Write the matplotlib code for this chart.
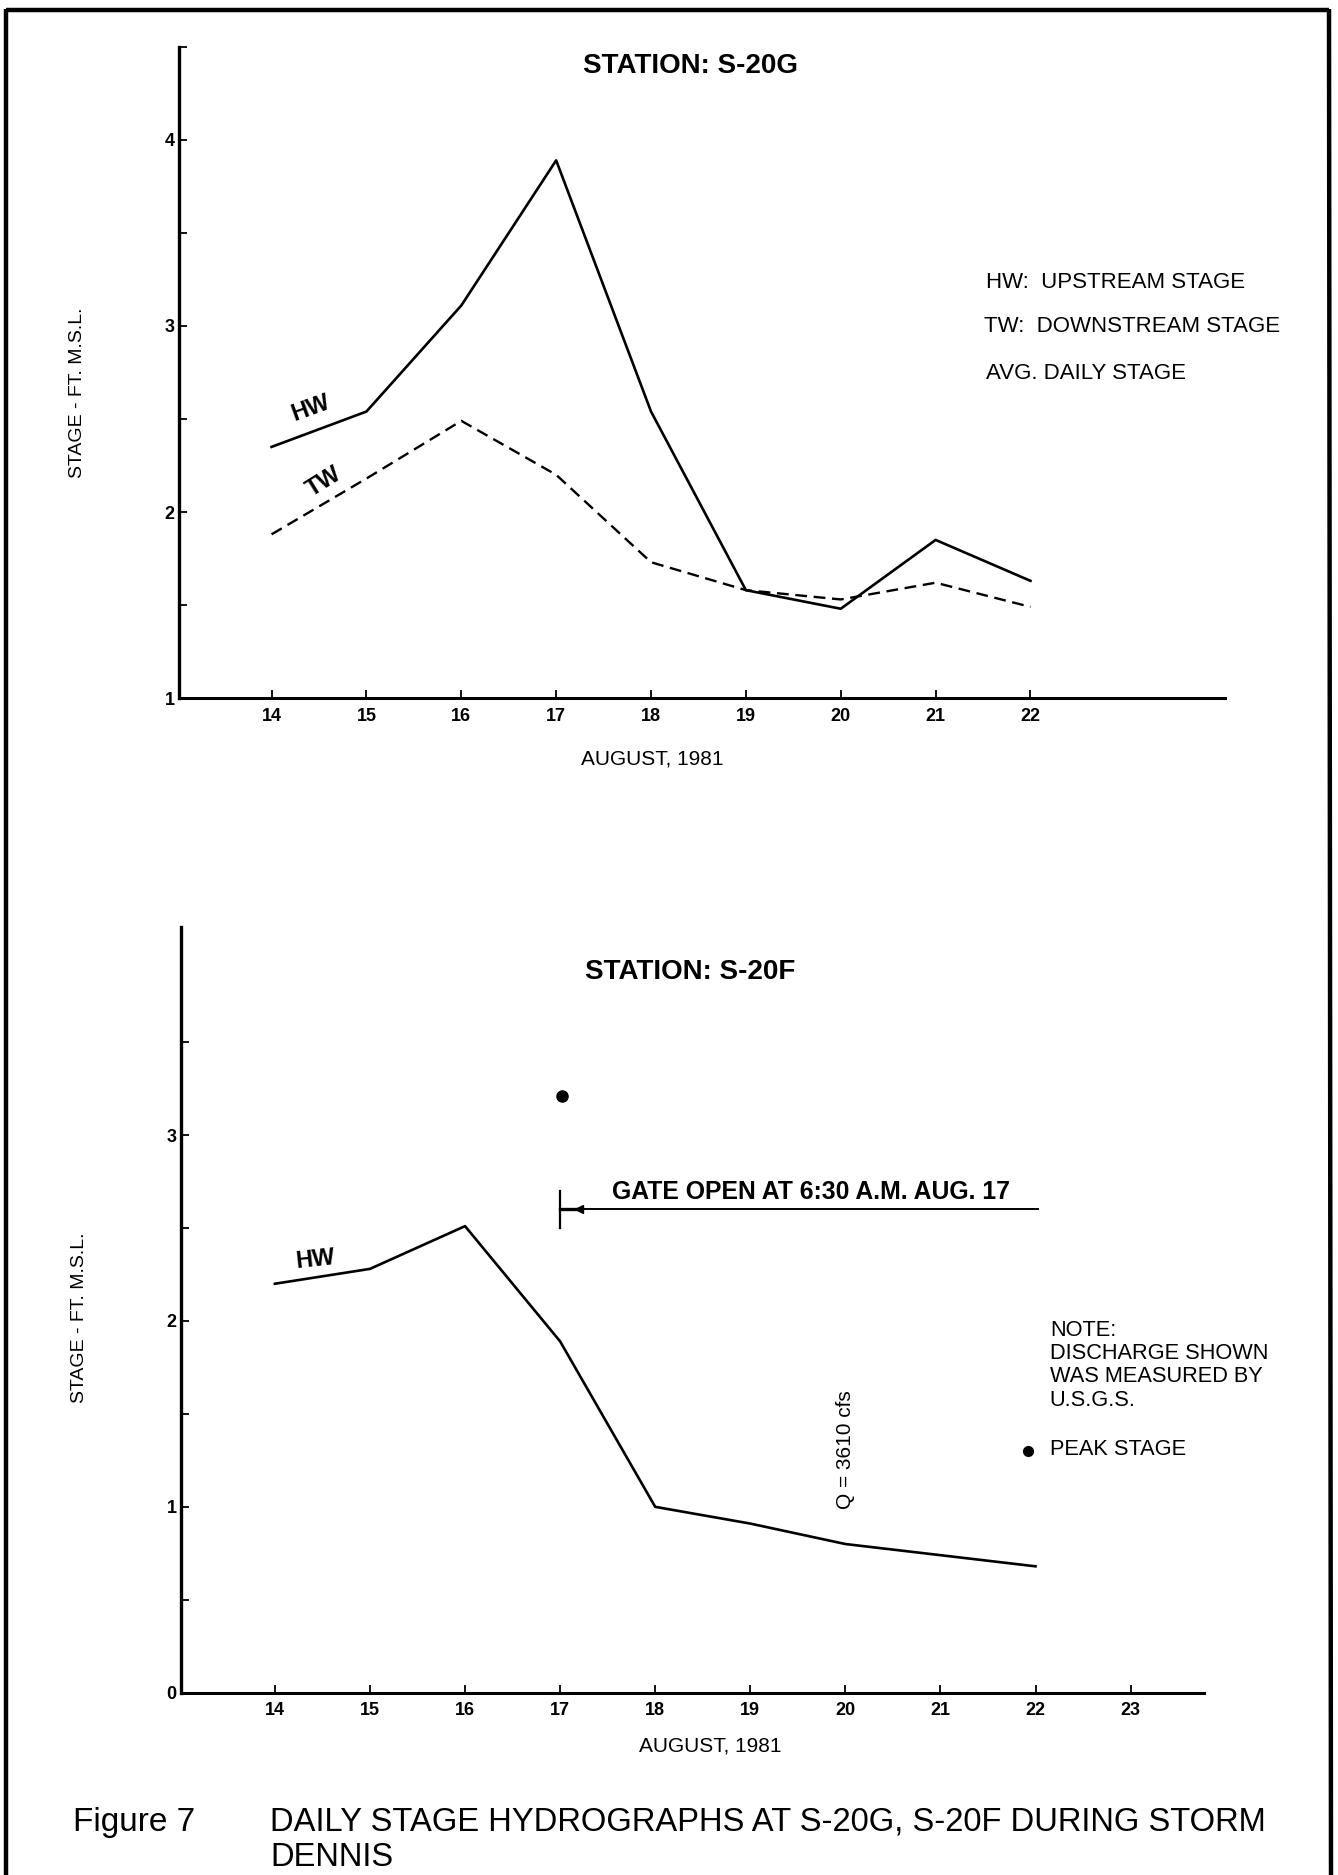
import matplotlib
matplotlib.use("Agg")
import matplotlib.pyplot as plt
from matplotlib.lines import Line2D

plt.rcParams['font.family'] = ['Liberation Sans', 'DejaVu Sans']

# S-20G average daily stage, ft MSL
days_g = [14, 15, 16, 17, 18, 19, 20, 21, 22]
hw_g = [2.35, 2.54, 3.11, 3.89, 2.54, 1.58, 1.48, 1.85, 1.63]
tw_g = [1.88, 2.18, 2.49, 2.20, 1.73, 1.58, 1.53, 1.62, 1.49]

# S-20F average daily stage, ft MSL
days_f = [14, 15, 16, 17, 18, 19, 20, 21, 22]
hw_f = [2.20, 2.28, 2.51, 1.89, 1.00, 0.91, 0.80, 0.74, 0.68]
peak_day = 17.02
peak_stage = 3.21
gate_open_day = 17
gate_line_end = 22.03
gate_line_stage = 2.60
discharge_day = 20
discharge_text = "Q = 3610 cfs"

xticks_g = list(range(14, 23))
xticks_f = list(range(14, 24))
yticks_g = [1, 2, 3, 4]
yticks_f = [0, 1, 2, 3]

fig = plt.figure(figsize=(13.38, 18.75), dpi=100)

# page frame (left, top, right)
W, H = 1338.0, 1875.0
frame = dict(color='black', lw=3.2, transform=fig.transFigure, solid_capstyle='butt')
fig.add_artist(Line2D([6 / W, 6 / W], [0, 1 - 9 / H], **frame))
fig.add_artist(Line2D([6 / W, 1329 / W], [1 - 9.5 / H, 1 - 9.5 / H], **frame))
fig.add_artist(Line2D([1329 / W, 1331 / W], [1 - 9 / H, 0], **frame))


def style_axes(ax, xticks, yticks):
    for s in ['top', 'right']:
        ax.spines[s].set_visible(False)
    ax.spines['left'].set_linewidth(2.4)
    ax.spines['bottom'].set_linewidth(2.2)
    ax.set_xticks(xticks)
    ax.set_yticks(yticks)
    ax.set_yticks([y + 0.5 for y in yticks], minor=True)
    ax.tick_params(axis='x', direction='in', length=6, width=1.3, pad=7,
                   labelsize=13)
    ax.tick_params(axis='y', which='both', direction='in', length=6,
                   width=1.3, pad=3, labelsize=13)
    for lab in ax.get_xticklabels() + ax.get_yticklabels():
        lab.set_fontweight('bold')


# ---- top chart: S-20G ----
ax1 = fig.add_axes([0.1335, 0.6277, 0.9155 - 0.1335, 0.975 - 0.6277])
ax1.set_xlim(13.02, 24.05)
ax1.set_ylim(1, 4.44)
ax1.plot(days_g, hw_g, color='black', lw=1.9)
ax1.plot(days_g, tw_g, color='black', lw=1.7, linestyle=(0, (5, 2.8)))
style_axes(ax1, xticks_g, yticks_g)

ax1.text(14.41, 2.56, "HW", rotation=20, fontsize=17, fontweight='bold',
         ha='center', va='center')
ax1.text(14.55, 2.16, "TW", rotation=32, fontsize=17, fontweight='bold',
         ha='center', va='center')
ax1.text(21.53, 3.236, "HW:  UPSTREAM STAGE", fontsize=16, va='center')
ax1.text(21.51, 2.996, "TW:  DOWNSTREAM STAGE", fontsize=16, va='center')
ax1.text(21.53, 2.746, "AVG. DAILY STAGE", fontsize=16, va='center')

fig.text(690 / W, 1 - 66 / H, "STATION: S-20G", fontsize=20, fontweight='bold',
         ha='center', va='center')
fig.text(78 / W, 1 - 393 / H, "STAGE - FT. M.S.L.", fontsize=14, rotation=90,
         ha='center', va='center')
fig.text(652 / W, 1 - 759 / H, "AUGUST, 1981", fontsize=15,
         ha='center', va='center')

# ---- bottom chart: S-20F ----
ax2 = fig.add_axes([0.1351, 0.0972, 0.8997 - 0.1351, 0.5057 - 0.0972])
ax2.set_xlim(13.01, 23.77)
ax2.set_ylim(0, 4.12)
ax2.plot(days_f, hw_f, color='black', lw=1.9)
style_axes(ax2, xticks_f, yticks_f)

ax2.plot([peak_day], [peak_stage], 'o', color='black', ms=8)

# gate opening marker
ax2.plot([gate_open_day, gate_open_day], [gate_line_stage - 0.10, gate_line_stage + 0.10],
         color='black', lw=1.6)
ax2.plot([gate_open_day, gate_line_end], [gate_line_stage, gate_line_stage],
         color='black', lw=1.4)
ax2.plot([gate_open_day, gate_open_day + 0.2], [gate_line_stage, gate_line_stage],
         color='black', lw=2.4)
ax2.plot([gate_open_day + 0.2], [gate_line_stage], marker='<', color='black', ms=6)
ax2.text(17.55, 2.693, "GATE OPEN AT 6:30 A.M. AUG. 17", fontsize=17.8,
         fontweight='bold', ha='left', va='center')

ax2.text(14.42, 2.33, "HW", rotation=6, fontsize=17, fontweight='bold',
         ha='center', va='center')
ax2.text(discharge_day, 1.31, discharge_text, rotation=90, fontsize=15,
         ha='center', va='center')

note_lines = ["NOTE:", "DISCHARGE SHOWN", "WAS MEASURED BY", "U.S.G.S."]
note_y = [1.948, 1.824, 1.702, 1.572]
for txt, y in zip(note_lines, note_y):
    ax2.text(22.15, y, txt, fontsize=15.7, va='center')
ax2.plot([21.92], [1.30], 'o', color='black', ms=7)
ax2.text(22.15, 1.31, "PEAK STAGE", fontsize=15.7, va='center')

fig.text(690 / W, 1 - 972 / H, "STATION: S-20F", fontsize=20, fontweight='bold',
         ha='center', va='center')
fig.text(80 / W, 1 - 1318 / H, "STAGE - FT. M.S.L.", fontsize=14, rotation=90,
         ha='center', va='center')
fig.text(710 / W, 1 - 1746 / H, "AUGUST, 1981", fontsize=15,
         ha='center', va='center')

# caption
fig.text(73 / W, 1 - 1822 / H, "Figure 7", fontsize=24, va='center')
fig.text(270 / W, 1 - 1822 / H,
         "DAILY STAGE HYDROGRAPHS AT S-20G, S-20F DURING STORM",
         fontsize=23.6, va='center')
fig.text(270 / W, 1 - 1858 / H, "DENNIS", fontsize=23.6, va='center')

fig.savefig("out.png", dpi=100)
